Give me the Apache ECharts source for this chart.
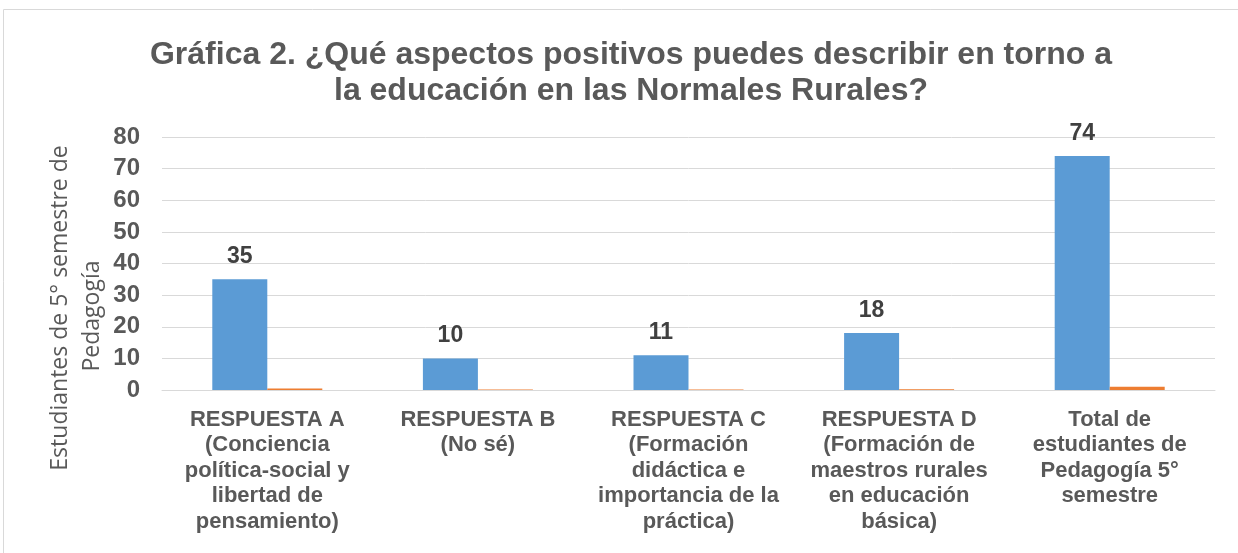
<!DOCTYPE html>
<html lang="es">
<head>
    <meta charset="UTF-8">
    <title>Gráfica 2</title>
    <script type="text/javascript" src="https://cdn.jsdelivr.net/npm/echarts@6/dist/echarts.min.js"></script>
    <style>
        html, body { margin: 0; padding: 0; background: #fff; overflow: hidden; }
        #chart { width: 1238px; height: 553px; }
    </style>
</head>
<body>
<div id="chart"></div>
<script type="text/javascript">
    var categories = [
        'RESPUESTA A\n(Conciencia\npolítica-social y\nlibertad de\npensamiento)',
        'RESPUESTA B\n(No sé)',
        'RESPUESTA C\n(Formación\ndidáctica e\nimportancia de la\npráctica)',
        'RESPUESTA D\n(Formación de\nmaestros rurales\nen educación\nbásica)',
        'Total de\nestudiantes de\nPedagogía 5°\nsemestre'
    ];
    var students = [35, 10, 11, 18, 74];
    var shares = [0.47, 0.14, 0.15, 0.24, 1];
    var yTicks = [0, 80, 10];

    var txt = '#595959';
    var myChart = echarts.init(document.getElementById('chart'));
    var option = {
        animation: false,
        title: {
            text: 'Gráfica 2. ¿Qué aspectos positivos puedes describir en torno a\nla educación en las Normales Rurales?',
            left: 626,
            top: 32,
            textAlign: 'center',
            textStyle: {
                fontFamily: 'Liberation Sans',
                fontSize: 32,
                fontWeight: 'bold',
                color: txt,
                lineHeight: 36
            }
        },
        graphic: [
            {
                type: 'rect',
                shape: {x: 3.5, y: 9.5, width: 1240, height: 560},
                style: {fill: 'none', stroke: '#d9d9d9', lineWidth: 1},
                silent: true
            },
            {
                type: 'text',
                x: 60, y: 308, rotation: Math.PI / 2,
                style: {
                    text: 'Estudiantes de 5° semestre de',
                    font: '23px "Open Sans"',
                    fill: txt,
                    align: 'center',
                    verticalAlign: 'middle'
                }
            },
            {
                type: 'text',
                x: 92, y: 316, rotation: Math.PI / 2,
                style: {
                    text: 'Pedagogía',
                    font: '23px "Open Sans"',
                    fill: txt,
                    align: 'center',
                    verticalAlign: 'middle'
                }
            }
        ],
        grid: {left: 162, right: 23, top: 137, bottom: 163, containLabel: false},
        xAxis: {
            type: 'category',
            data: categories,
            axisTick: {show: false},
            axisLine: {lineStyle: {color: '#d9d9d9', width: 1}},
            axisLabel: {
                interval: 0,
                margin: 17,
                fontFamily: 'Liberation Sans',
                fontSize: 22,
                fontWeight: 'bold',
                color: txt,
                lineHeight: 25.5
            }
        },
        yAxis: {
            type: 'value',
            min: yTicks[0],
            max: yTicks[1],
            interval: yTicks[2],
            axisLine: {show: false},
            axisTick: {show: false},
            splitLine: {lineStyle: {color: '#d9d9d9', width: 1}},
            axisLabel: {
                margin: 22,
                fontFamily: 'Liberation Sans',
                fontSize: 24,
                fontWeight: 'bold',
                color: txt
            }
        },
        series: [
            {
                name: 'Estudiantes',
                type: 'bar',
                data: students,
                barWidth: 55,
                barGap: '0%',
                itemStyle: {color: '#5B9BD5'},
                label: {
                    show: true,
                    position: 'top',
                    distance: 11,
                    fontFamily: 'Liberation Sans',
                    fontSize: 23,
                    fontWeight: 'bold',
                    color: '#404040'
                }
            },
            {
                name: 'Porcentaje',
                type: 'bar',
                data: shares,
                barWidth: 55,
                barGap: '0%',
                itemStyle: {color: '#ED7D31'}
            }
        ]
    };
    myChart.setOption(option);
</script>
</body>
</html>
